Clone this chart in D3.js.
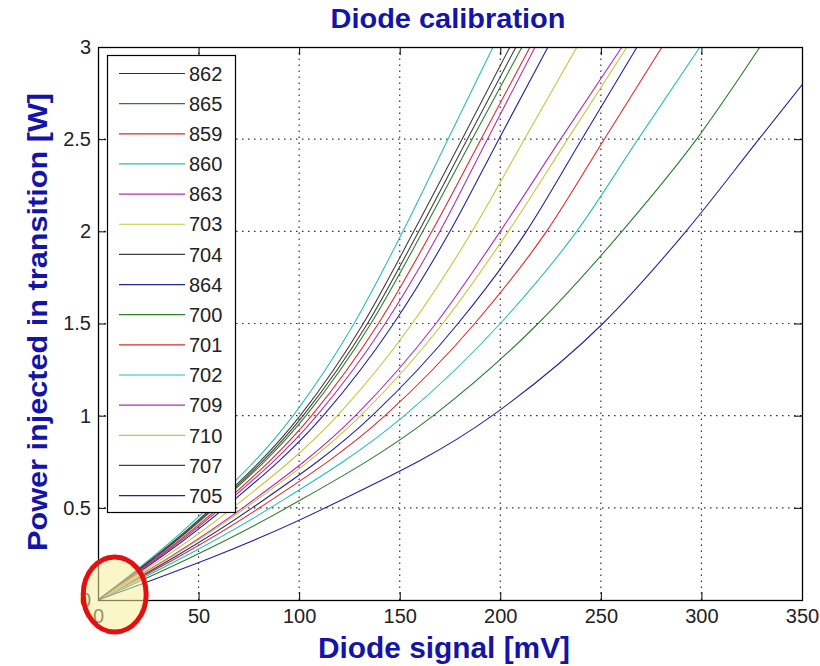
<!DOCTYPE html>
<html lang="en">
    <head>
        <meta charset="utf-8">
        <title>Diode calibration</title>
        <script type="text/javascript" src="https://cdnjs.cloudflare.com/ajax/libs/d3/7.8.5/d3.min.js"></script>
        <style type="text/css">
            body { margin: 0; background: #fff; }
            text { font-family: "Liberation Sans", Arial, sans-serif; }
        </style>
    </head>
    <body>
        <script type="text/javascript">
            var w = 820;
            var h = 666;

            // legend order, as plotted
            var names = ["862", "865", "859", "860", "863", "703", "704", "864",
                         "700", "701", "702", "709", "710", "707", "705"];
            // matlab line colour cycle (b g r c m y k)
            var palette = ["#23239c", "#2a7f2a", "#e02a2a", "#2cbcbc", "#b22fb2", "#c6c63a", "#404040"];

            var xTicks = [0, 50, 100, 150, 200, 250, 300, 350];
            var yTicks = [0, 0.5, 1, 1.5, 2, 2.5, 3];

            var powerLevels = [0, 0.5, 1, 1.5, 2, 2.5, 3];
            // diode signal [mV] where each curve crosses those levels
            var sig862 = [0, 63, 112, 147, 175, 199.3, 223.7];
            var sig865 = [0, 58.1, 103.4, 135.7, 161.5, 186, 210.8];
            var sig859 = [0, 59.8, 106.2, 139.4, 166, 190.4, 214.8];
            var sig860 = [0, 54.6, 97, 127.3, 151.6, 174, 196.4];
            var sig863 = [0, 61.2, 108.8, 142.8, 170, 193.6, 217.3];
            var sig703 = [0, 67, 119, 156.2, 186, 212, 238.1];
            var sig704 = [0, 56.5, 100.5, 131.9, 157, 181, 204.8];
            var sig864 = [0, 76.7, 136.3, 179, 213, 240.5, 268];
            var sig700 = [0, 93.8, 166.7, 218.8, 260.5, 297.6, 329.1];
            var sig701 = [0, 80.3, 142.7, 187.3, 223, 251.7, 280.4];
            var sig702 = [0, 85.7, 152.3, 200, 238, 268.5, 299.3];
            var sig709 = [0, 72, 128, 168, 200, 230, 260.5];
            var sig710 = [0, 73.4, 130.6, 171.4, 204, 233.5, 263];
            var sig707 = [0, 57.4, 102, 134, 159.5, 183.6, 207.8];
            var sig705 = [0, 113, 196, 251, 292.3, 328.6, 365];

            var signals = [sig862, sig865, sig859, sig860, sig863, sig703, sig704, sig864,
                           sig700, sig701, sig702, sig709, sig710, sig707, sig705];

            var x = d3.scaleLinear().domain([0, 350]).range([98, 802]);
            var y = d3.scaleLinear().domain([0, 3]).range([600, 47]);
            var color = function(i) { return palette[i % palette.length]; };

            var svg = d3.select("body")
                        .append("svg")
                        .attr("width", w)
                        .attr("height", h);

            svg.append("defs").append("clipPath")
               .attr("id", "plotclip")
               .append("rect")
               .attr("x", x(0)).attr("y", y(3))
               .attr("width", x(350) - x(0))
               .attr("height", y(0) - y(3));

            // dotted grid
            var grid = svg.append("g")
                          .attr("stroke", "#333")
                          .attr("stroke-width", 1.2)
                          .attr("stroke-dasharray", "1.5,4.5");
            grid.selectAll("line.gx")
                .data(xTicks.slice(1, -1))
                .enter().append("line")
                .attr("class", "gx")
                .attr("x1", function(d) { return x(d); })
                .attr("x2", function(d) { return x(d); })
                .attr("y1", y(0)).attr("y2", y(3));
            grid.selectAll("line.gy")
                .data(yTicks.slice(1, -1))
                .enter().append("line")
                .attr("class", "gy")
                .attr("y1", function(d) { return y(d); })
                .attr("y2", function(d) { return y(d); })
                .attr("x1", x(0)).attr("x2", x(350));

            // curves
            var line = d3.line()
                         .x(function(d) { return x(d[0]); })
                         .y(function(d) { return y(d[1]); })
                         .curve(d3.curveMonotoneX);

            svg.append("g")
               .attr("clip-path", "url(#plotclip)")
               .selectAll("path")
               .data(signals)
               .enter()
               .append("path")
               .attr("d", function(s) {
                    return line(s.map(function(v, k) { return [v, powerLevels[k]]; }));
               })
               .attr("fill", "none")
               .attr("stroke", function(d, i) { return color(i); })
               .attr("stroke-width", 1.1);

            // axes, ticks inward on all four sides
            var tickLen = 8;
            var tickFmt = function(d) { return d; };
            function axisStyle(g) {
                g.select(".domain").remove();
                g.selectAll(".tick line").attr("stroke", "#000");
                g.selectAll(".tick text")
                 .attr("fill", "#222")
                 .attr("font-size", "20px")
                 .attr("font-family", "Liberation Sans, Arial, sans-serif");
            }
            svg.append("g")
               .attr("transform", "translate(0," + y(0) + ")")
               .call(d3.axisBottom(x).tickValues(xTicks).tickFormat(tickFmt)
                       .tickSizeInner(-tickLen).tickSizeOuter(0).tickPadding(9))
               .call(axisStyle);
            svg.append("g")
               .attr("transform", "translate(0," + y(3) + ")")
               .call(d3.axisTop(x).tickValues(xTicks).tickFormat("")
                       .tickSizeInner(-tickLen).tickSizeOuter(0))
               .call(axisStyle);
            svg.append("g")
               .attr("transform", "translate(" + x(0) + ",0)")
               .call(d3.axisLeft(y).tickValues(yTicks).tickFormat(tickFmt)
                       .tickSizeInner(-tickLen).tickSizeOuter(0).tickPadding(7))
               .call(axisStyle);
            svg.append("g")
               .attr("transform", "translate(" + x(350) + ",0)")
               .call(d3.axisRight(y).tickValues(yTicks).tickFormat("")
                       .tickSizeInner(-tickLen).tickSizeOuter(0))
               .call(axisStyle);

            svg.append("rect")
               .attr("x", x(0) + 0.5).attr("y", y(3) + 0.5)
               .attr("width", x(350) - x(0))
               .attr("height", y(0) - y(3))
               .attr("fill", "none")
               .attr("stroke", "#000")
               .attr("stroke-width", 1.3);

            // legend
            var rowY = d3.scalePoint().domain(names).range([73.5, 495.6]);
            var legend = svg.append("g");
            legend.append("rect")
                  .attr("x", 107.5).attr("y", 55.5)
                  .attr("width", 128).attr("height", 457)
                  .attr("fill", "#fff")
                  .attr("stroke", "#000")
                  .attr("stroke-width", 1.2);
            var rows = legend.selectAll("g.row")
                             .data(names)
                             .enter()
                             .append("g")
                             .attr("class", "row")
                             .attr("transform", function(d) { return "translate(0," + rowY(d) + ")"; });
            rows.append("line")
                .attr("x1", 119).attr("x2", 185)
                .attr("stroke", function(d, i) { return color(i); })
                .attr("stroke-width", 1.2);
            rows.append("text")
                .attr("x", 189)
                .attr("dy", "0.36em")
                .attr("font-size", "20px")
                .attr("fill", "#222")
                .text(function(d) { return d; });

            // title and axis labels
            var blue = "#1414a8";
            svg.append("text")
               .attr("x", 448).attr("y", 28)
               .attr("text-anchor", "middle")
               .attr("font-weight", "bold")
               .attr("font-size", "28px")
               .attr("fill", blue)
               .attr("textLength", 235)
               .attr("lengthAdjust", "spacingAndGlyphs")
               .text("Diode calibration");
            svg.append("text")
               .attr("x", 444).attr("y", 658)
               .attr("text-anchor", "middle")
               .attr("font-weight", "bold")
               .attr("font-size", "29px")
               .attr("fill", blue)
               .attr("textLength", 252)
               .attr("lengthAdjust", "spacingAndGlyphs")
               .text("Diode signal [mV]");
            svg.append("text")
               .attr("transform", "translate(47,322) rotate(-90)")
               .attr("text-anchor", "middle")
               .attr("font-weight", "bold")
               .attr("font-size", "27px")
               .attr("fill", blue)
               .attr("textLength", 458)
               .attr("lengthAdjust", "spacingAndGlyphs")
               .text("Power injected in transition [W]");

            // highlight around the origin
            svg.append("ellipse")
               .attr("cx", x(8.3)).attr("cy", y(0.03))
               .attr("rx", 31.5).attr("ry", 37.5)
               .attr("fill", "#f7ef9a")
               .attr("fill-opacity", 0.55)
               .attr("stroke", "#e41010")
               .attr("stroke-width", 5);
        </script>
    </body>
</html>
